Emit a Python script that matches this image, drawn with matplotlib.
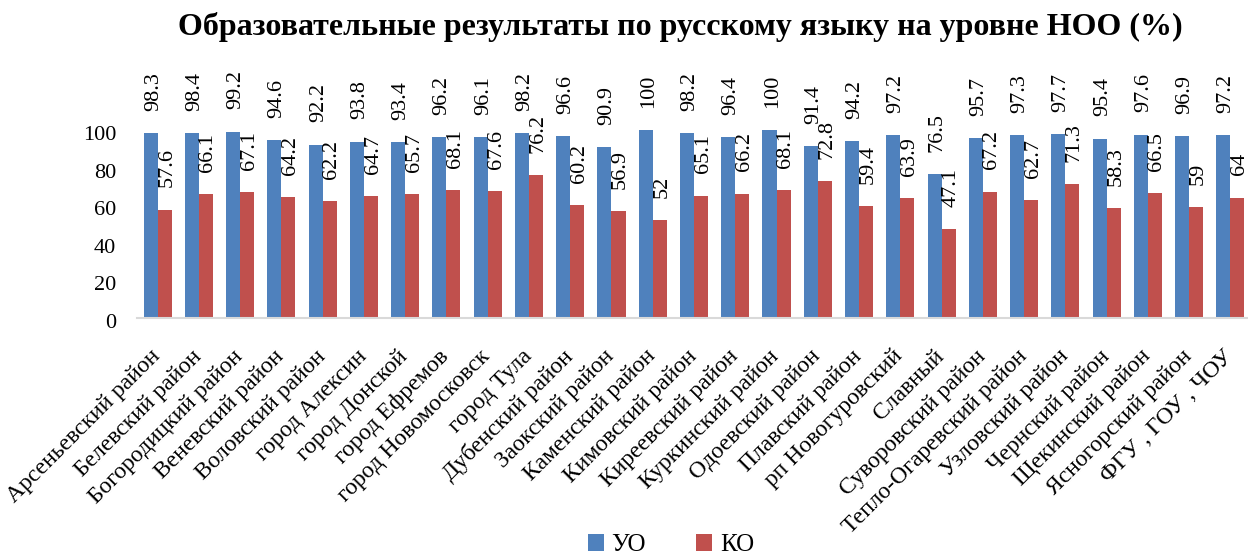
import matplotlib
matplotlib.use("Agg")
import matplotlib.pyplot as plt
import matplotlib.transforms as mtransforms
import numpy as np
from matplotlib.patches import Patch

categories = ["Арсеньевский район", "Белевский район", "Богородицкий район", "Веневский район",
              "Воловский район", "город Алексин", "город Донской", "город Ефремов",
              "город Новомосковск", "город Тула", "Дубенский район", "Заокский район",
              "Каменский район", "Кимовский район", "Киреевский район", "Куркинский район",
              "Одоевский район", "Плавский район", "рп Новогуровский", "Славный",
              "Суворовский район", "Тепло-Огаревский район", "Узловский район", "Чернский район",
              "Щекинский район", "Ясногорский район", "ФГУ , ГОУ , ЧОУ"]
uo = [98.3, 98.4, 99.2, 94.6, 92.2, 93.8, 93.4, 96.2, 96.1, 98.2, 96.6, 90.9, 100, 98.2,
      96.4, 100, 91.4, 94.2, 97.2, 76.5, 95.7, 97.3, 97.7, 95.4, 97.6, 96.9, 97.2]
ko = [57.6, 66.1, 67.1, 64.2, 62.2, 64.7, 65.7, 68.1, 67.6, 76.2, 60.2, 56.9, 52, 65.1,
      66.2, 68.1, 72.8, 59.4, 63.9, 47.1, 67.2, 62.7, 71.3, 58.3, 66.5, 59, 64]
series_names = ["УО", "КО"]
yticks = [0, 20, 40, 60, 80, 100]

BLUE = "#4F81BD"
RED = "#C0504D"
FONT = "Liberation Serif"
plt.rcParams['font.family'] = [FONT, 'DejaVu Serif']

W, H = 1248, 556
fig = plt.figure(figsize=(W / 100, H / 100), dpi=100)
# axes in pixel geometry
x0, x1 = 137, 1251
y0, y1 = 318, 130
ax = fig.add_axes([x0 / W, 1 - y0 / H, (x1 - x0) / W, (y0 - y1) / H])

n = len(categories)
x = np.arange(n)
bw = 0.34
ax.bar(x - bw / 2, uo, bw, color=BLUE, clip_on=False)
ax.bar(x + bw / 2, ko, bw, color=RED, clip_on=False)

for xi, v in zip(x - bw / 2, uo):
    ax.annotate(f"{v:g}", (xi, v), xytext=(2, 16), textcoords="offset points",
                rotation=90, ha="center", va="bottom", fontsize=16, annotation_clip=False)
for xi, v in zip(x + bw / 2, ko):
    ax.annotate(f"{v:g}", (xi, v), xytext=(1.5, 16), textcoords="offset points",
                rotation=90, ha="center", va="bottom", fontsize=16, annotation_clip=False)

ax.set_xlim(-0.5, n - 0.5)
ax.set_ylim(0, 100)
ax.set_yticks(yticks)
ax.set_yticklabels([str(t) for t in yticks], fontsize=16)
ax.tick_params(axis="y", length=0, pad=15)
ax.tick_params(axis="x", length=0, pad=20)
ax.set_xticks(x)
ax.set_xticklabels(categories, rotation=45, ha="right", fontsize=17)

ydown = mtransforms.ScaledTranslation(0, -3 / 100, fig.dpi_scale_trans)
for lbl in ax.get_yticklabels():
    lbl.set_transform(lbl.get_transform() + ydown)
xshift = mtransforms.ScaledTranslation(7 / 100, 0, fig.dpi_scale_trans)
for lbl in ax.get_xticklabels():
    lbl.set_transform(lbl.get_transform() + xshift)

for s in ["top", "right", "left"]:
    ax.spines[s].set_visible(False)
ax.spines["bottom"].set_color("#D9D9D9")
ax.spines["bottom"].set_linewidth(1.5)

fig.text(680 / W, 1 - 27 / H, "Образовательные результаты по русскому языку на уровне НОО (%)",
         ha="center", va="center", fontsize=23, fontweight="bold")

handles = [Patch(facecolor=BLUE), Patch(facecolor=RED)]
fig.legend(handles, series_names, loc="center", bbox_to_anchor=(671 / W, 1 - 545 / H),
           ncol=2, frameon=False, fontsize=18, handlelength=0.65, handleheight=0.65,
           handletextpad=0.3, columnspacing=2.0, borderpad=0)

fig.savefig("out.png", dpi=100)
